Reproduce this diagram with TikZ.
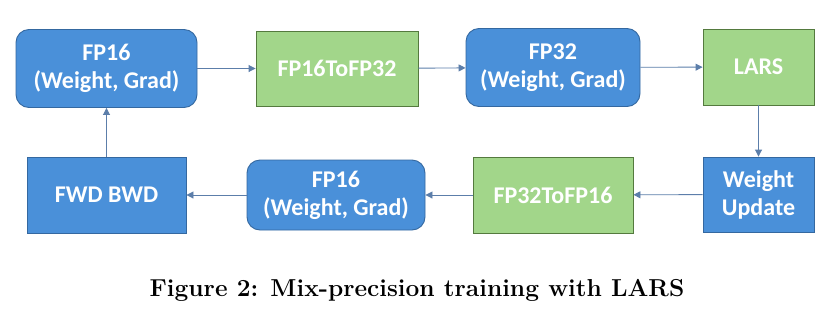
\documentclass[tikz,border=0pt]{standalone}
\usepackage{fontspec}
\usepackage{xcolor}
\usepackage{tikz}
\usetikzlibrary{arrows.meta,positioning}
\newfontfamily\boxfont{Carlito}
\definecolor{figblue}{RGB}{74,144,217}
\definecolor{figblueln}{RGB}{52,104,160}
\definecolor{figgreen}{RGB}{162,214,138}
\definecolor{figgreenln}{RGB}{84,122,62}
\definecolor{figarrow}{RGB}{92,126,170}
\tikzset{
  bx/.style   ={inner sep=0pt, align=center, text=white, line width=0.9pt,
                font=\boxfont\fontsize{24}{28}\selectfont\bfseries},
  bxr/.style  ={bx, fill=figblue, draw=figblueln, rounded corners=13pt},
  bxs/.style  ={bx, fill=figblue, draw=figblueln},
  bxg/.style  ={bx, fill=figgreen, draw=figgreenln},
  flw/.style  ={draw=figarrow, line width=0.9pt, -{Triangle[length=7pt,width=7pt]}},
}
\begin{document}
\begin{tikzpicture}[x=1pt,y=-1pt]
  \useasboundingbox[fill=white] (0,0) rectangle (835,330);
  \node[bxr,minimum width=181pt,minimum height=78pt] (w16a) at (106.5,68.5) {FP16\\(Weight, Grad)};
  \node[bxg,minimum width=162pt,minimum height=75pt] (cvt1) at (337,68.5) {FP16ToFP32};
  \node[bxr,minimum width=174pt,minimum height=78pt] (w32) at (553,67.5) {FP32\\(Weight, Grad)};
  \node[bxg,minimum width=111pt,minimum height=76pt] (lars) at (758.5,67) {LARS};
  \node[bxs,minimum width=111pt,minimum height=75pt] (upd) at (758.5,194.5) {Weight\\Update};
  \node[bxg,minimum width=160pt,minimum height=76pt] (cvt2) at (553,195) {FP32ToFP16};
  \node[bxr,minimum width=178pt,minimum height=70pt] (w16b) at (336,195) {FP16\\(Weight, Grad)};
  \node[bxs,minimum width=159pt,minimum height=76pt] (fb) at (106.5,195) {FWD BWD};
  \draw[flw] (w16a) -- (cvt1);
  \draw[flw] (cvt1) -- (w32);
  \draw[flw] (w32) -- (lars);
  \draw[flw] (lars) -- (upd);
  \draw[flw] (upd) -- (cvt2);
  \draw[flw] (cvt2) -- (w16b);
  \draw[flw] (w16b) -- (fb);
  \draw[flw] (fb) -- (w16a);
  \node[font=\fontsize{24.5}{29}\selectfont\bfseries, inner sep=0pt] (cap) at (417,290) {Figure 2: Mix-precision training with LARS};
\end{tikzpicture}
\end{document}
